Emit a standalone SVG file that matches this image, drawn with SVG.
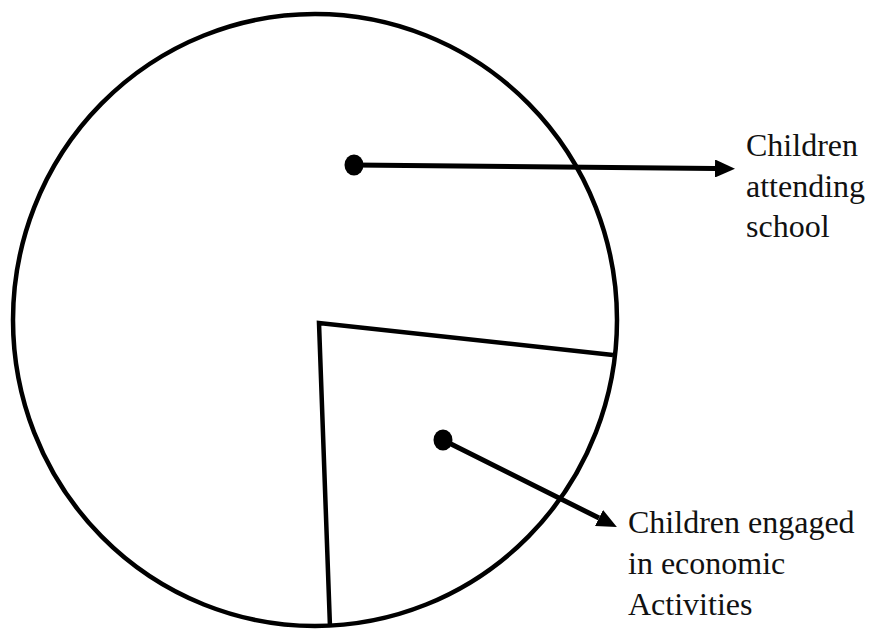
<svg xmlns="http://www.w3.org/2000/svg" width="872" height="629" viewBox="0 0 872 629">
  <style>
    .outline { fill: none; stroke: #000; stroke-width: 4.5; }
    .conn { fill: none; stroke: #000; stroke-width: 5; }
    .dot { fill: #000; }
    .label { font-family: "Liberation Serif", "Times New Roman", serif; font-size: 32px; fill: #111; }
  </style>
  <defs>
    <marker id="arrow" viewBox="0 0 20 18" markerWidth="20" markerHeight="18" markerUnits="userSpaceOnUse" refX="0" refY="9" orient="auto">
      <path d="M0,0 L20,9 L0,18 z" fill="#000"/>
    </marker>
  </defs>
  <rect width="872" height="629" fill="#fff"/>
  <g id="pie">
    <ellipse class="outline" cx="315" cy="320" rx="302" ry="306"/>
    <polyline class="outline" points="613,355 319,323 330,627"/>
  </g>
  <g id="connectors">
    <ellipse class="dot" cx="354" cy="165" rx="9.5" ry="10.5"/>
    <line class="conn" x1="354" y1="165" x2="715" y2="168.5" marker-end="url(#arrow)"/>
    <ellipse class="dot" cx="443" cy="440" rx="9.5" ry="10.5"/>
    <line class="conn" x1="443" y1="440" x2="599" y2="518" marker-end="url(#arrow)"/>
  </g>
  <g id="label-school">
    <text class="label" x="746" y="156">Children</text>
    <text class="label" x="746" y="197">attending</text>
    <text class="label" x="746" y="237">school</text>
  </g>
  <g id="label-economic">
    <text class="label" x="628" y="533">Children engaged</text>
    <text class="label" x="628" y="574">in economic</text>
    <text class="label" x="628" y="615">Activities</text>
  </g>
</svg>
